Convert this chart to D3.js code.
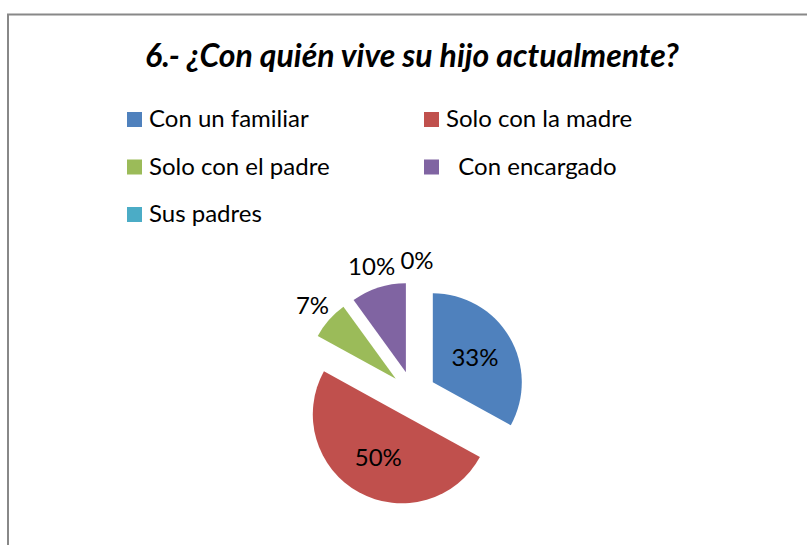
<!DOCTYPE html>
<html>
<head>
<meta charset="utf-8">
<script src="https://cdn.jsdelivr.net/npm/d3@7"></script>
<style>
  body { margin: 0; background: #fff; }
  text { font-family: Lato, "Open Sans", sans-serif; fill: #000; }
</style>
</head>
<body>
<div id="chart"></div>
<script>
// chart data
var title = "6.- ¿Con quién vive su hijo actualmente?";
var categories = ["Con un familiar", "Solo con la madre", "Solo con el padre", "  Con encargado", "Sus padres"];
var percents = [33, 50, 7, 10, 0];
var colors = ["#4F81BD", "#C0504D", "#9BBB59", "#8064A2", "#4BACC6"];

var svgWidth = 807;
var svgHeight = 545;

var svg = d3.select("#chart")
  .append("svg")
  .attr("width", svgWidth)
  .attr("height", svgHeight);

// outer chart border (runs off the right and bottom edge)
svg.append("rect")
  .attr("x", 8)
  .attr("y", 14.5)
  .attr("width", 900)
  .attr("height", 600)
  .attr("fill", "none")
  .attr("stroke", "#888")
  .attr("stroke-width", 2);

// title
svg.append("text")
  .attr("x", 412)
  .attr("y", 67)
  .attr("text-anchor", "middle")
  .style("font-size", "32px")
  .style("font-weight", "bold")
  .style("font-style", "italic")
  .text(title);

// legend, two columns
var legend = svg.append("g");
var legendItem = legend.selectAll(".legend-item")
  .data(categories)
  .enter()
  .append("g")
  .attr("class", "legend-item")
  .attr("transform", (d, i) => `translate(${i % 2 === 0 ? 127 : 424}, ${112 + Math.floor(i / 2) * 47.5})`);

legendItem.append("rect")
  .attr("width", 15)
  .attr("height", 15)
  .attr("fill", (d, i) => colors[i]);

legendItem.append("text")
  .attr("x", 22)
  .attr("y", 15)
  .style("font-size", "24px")
  .style("white-space", "pre")
  .text(d => d);

// pie
var cx = 413;
var cy = 394;
var radius = 89;
var explode = 23;

var pie = d3.pie().sort(null).value(d => d);
var arcs = pie(percents);
var total = d3.sum(percents);
var fmt = d3.format(".0%");

var arc = d3.arc().innerRadius(0).outerRadius(radius);

var pieGroup = svg.append("g")
  .attr("transform", `translate(${cx}, ${cy})`);

function midAngle(d) {
  return (d.startAngle + d.endAngle) / 2;
}

pieGroup.selectAll(".slice")
  .data(arcs)
  .enter()
  .append("path")
  .attr("class", "slice")
  .attr("d", arc)
  .attr("fill", (d, i) => colors[i])
  .attr("transform", d => {
    var a = midAngle(d);
    return `translate(${Math.sin(a) * explode}, ${-Math.cos(a) * explode})`;
  });

// percent labels: big slices inside, small ones outside
pieGroup.selectAll(".pct")
  .data(arcs)
  .enter()
  .append("text")
  .attr("class", "pct")
  .attr("text-anchor", "middle")
  .attr("dy", "0.36em")
  .attr("dx", d => d.value === 0 ? 4 : 0) // keep "0%" clear of "10%"
  .style("font-size", "24px")
  .attr("x", d => {
    var r = d.value / total < 0.15 ? 134 : 72;
    return Math.sin(midAngle(d)) * r;
  })
  .attr("y", d => {
    var r = d.value / total < 0.15 ? 134 : 72;
    return -Math.cos(midAngle(d)) * r;
  })
  .text(d => fmt(d.value / total));
</script>
</body>
</html>
